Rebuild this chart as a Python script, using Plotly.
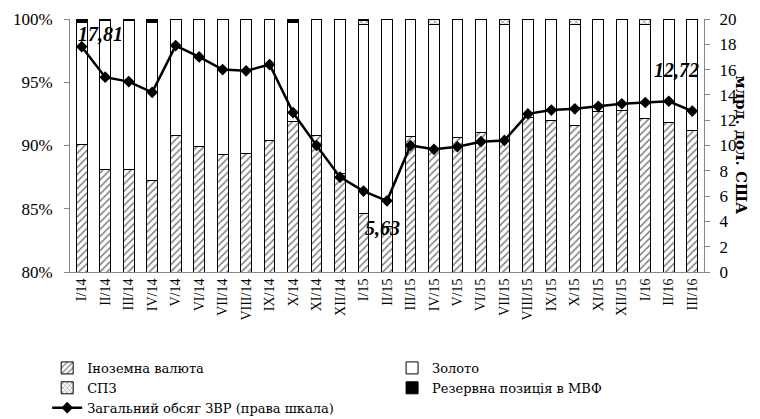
import plotly.graph_objects as go

categories = ["I/14", "II/14", "III/14", "IV/14", "V/14", "VI/14", "VII/14", "VIII/14", "IX/14",
              "X/14", "XI/14", "XII/14", "I/15", "II/15", "III/15", "IV/15", "V/15", "VI/15",
              "VII/15", "VIII/15", "IX/15", "X/15", "XI/15", "XII/15", "I/16", "II/16", "III/16"]

fx = [90.1, 88.1, 88.1, 87.2, 90.8, 89.9, 89.3, 89.4, 90.4, 91.9, 90.8, 87.8, 84.6, 83.6,
      90.7, 89.7, 90.6, 91.0, 90.3, 92.2, 92.0, 91.6, 92.7, 92.8, 92.1, 91.8, 91.2]
gold = [9.6, 11.8, 11.8, 12.5, 9.15, 10.05, 10.65, 10.55, 9.55, 7.85, 9.15, 12.15, 14.95, 16.35,
        9.25, 9.9, 9.35, 8.95, 9.3, 7.75, 7.95, 8.0, 7.25, 7.15, 7.5, 8.15, 8.75]
sdr = [0, 0, 0, 0, 0, 0, 0, 0, 0, 0, 0, 0, 0.35, 0, 0, 0.35, 0, 0, 0.35, 0, 0, 0.35, 0, 0, 0.35, 0, 0]
reserve = [0.3, 0.1, 0.1, 0.3, 0.05, 0.05, 0.05, 0.05, 0.05, 0.25, 0.05, 0.05, 0.1, 0.05,
           0.05, 0.05, 0.05, 0.05, 0.05, 0.05, 0.05, 0.05, 0.05, 0.05, 0.05, 0.05, 0.05]
total = [17.81, 15.4, 15.05, 14.2, 17.9, 17.0, 16.0, 15.9, 16.4, 12.6, 10.0, 7.5, 6.4, 5.63,
         10.0, 9.7, 9.9, 10.3, 10.4, 12.5, 12.8, 12.9, 13.1, 13.3, 13.4, 13.5, 12.72]

names = ["Іноземна валюта", "Золото", "СПЗ", "Резервна позиція в МВФ",
         "Загальний обсяг ЗВР (права шкала)"]

FONT = "Liberation Serif, DejaVu Serif, serif"
CYR = "DejaVu Serif, Liberation Serif, serif"
line_style = dict(color="black", width=1)

fig = go.Figure()
fig.add_trace(go.Bar(x=categories, y=fx, name=names[0], legend="legend",
                     marker=dict(color="white", line=line_style,
                                 pattern=dict(shape="/", fgcolor="black", bgcolor="white",
                                              size=5, solidity=0.3))))
fig.add_trace(go.Bar(x=categories, y=gold, name=names[1], legend="legend2",
                     marker=dict(color="white", line=line_style)))
fig.add_trace(go.Bar(x=categories, y=sdr, name=names[2], legend="legend",
                     marker=dict(color="white", line=line_style,
                                 pattern=dict(shape="x", fgcolor="black", bgcolor="white",
                                              size=4, solidity=0.3))))
fig.add_trace(go.Bar(x=categories, y=reserve, name=names[3], legend="legend2",
                     marker=dict(color="black", line=line_style)))
fig.add_trace(go.Scatter(x=categories, y=total, name=names[4], yaxis="y2", legend="legend",
                         mode="lines+markers",
                         line=dict(color="black", width=2.5),
                         marker=dict(symbol="diamond", size=9, color="black")))

ann_font = dict(family=FONT, size=20, color="black", weight="bold", style="italic")
fig.add_annotation(x=categories[0], y=total[0], xref="x", yref="y2", text="17,81",
                   showarrow=False, xshift=19, yshift=13, font=ann_font)
fig.add_annotation(x=categories[13], y=total[13], xref="x", yref="y2", text="5,63",
                   showarrow=False, xshift=-5, yshift=-27, font=ann_font)
fig.add_annotation(x=categories[26], y=total[26], xref="x", yref="y2", text="12,72",
                   showarrow=False, xshift=-16, yshift=41, font=ann_font)
fig.add_annotation(x=1.0, y=0.5, xref="paper", yref="paper", text="млрд. дол. США",
                   textangle=90, showarrow=False, xshift=48,
                   font=dict(family=CYR, size=15, color="black", weight="bold"))

fig.update_layout(
    width=760, height=419,
    margin=dict(l=70, r=56, t=19, b=147, autoexpand=False),
    paper_bgcolor="white", plot_bgcolor="white",
    barmode="stack", bargap=0.54,
    font=dict(family=FONT, color="black"),
    xaxis=dict(type="category", range=[-0.5, len(categories) - 0.5], tickangle=-90,
               showline=True, linecolor="#888888",
               linewidth=1, ticks="", tickfont=dict(size=14, family=FONT),
               showgrid=False, automargin=False),
    yaxis=dict(range=[80, 100], dtick=5, ticksuffix="%", showline=True,
               linecolor="#888888", ticks="outside", ticklen=5, tickcolor="#888888",
               tickfont=dict(size=17, family=FONT), showgrid=False, zeroline=False,
               ticklabelstandoff=8, automargin=False),
    yaxis2=dict(range=[0, 20], dtick=2, overlaying="y", side="right", showline=True,
                linecolor="#888888", ticks="outside", ticklen=5, tickcolor="#888888",
                tickfont=dict(size=17, family=FONT), showgrid=False, zeroline=False,
                ticklabelstandoff=6, automargin=False),
    legend=dict(x=-0.036, y=-0.32, xanchor="left", yanchor="top", orientation="v",
                traceorder="normal", tracegroupgap=0, font=dict(size=13, family=CYR),
                bgcolor="rgba(0,0,0,0)"),
    legend2=dict(x=0.508, y=-0.32, xanchor="left", yanchor="top", orientation="v",
                 traceorder="normal", tracegroupgap=0, font=dict(size=13, family=CYR),
                 bgcolor="rgba(0,0,0,0)"),
)

fig.write_html("out.html", config={"displayModeBar": False},
               post_script="document.body.style.margin='0';document.body.style.padding='0';")
